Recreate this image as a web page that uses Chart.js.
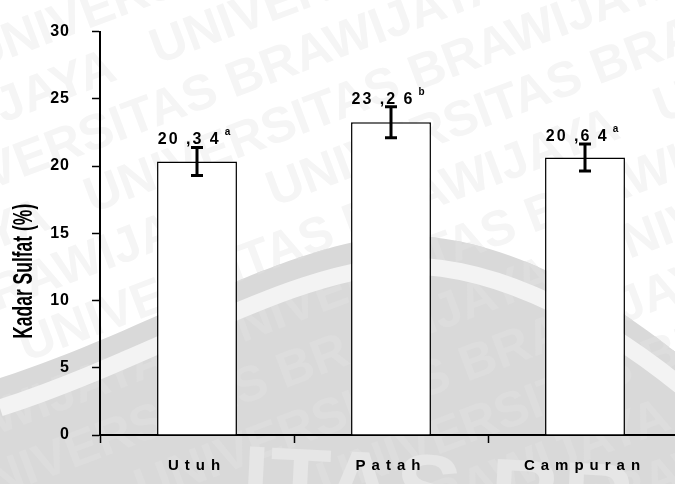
<!DOCTYPE html>
<html>
<head>
<meta charset="utf-8">
<script src="https://cdn.jsdelivr.net/npm/chart.js@4.4.1/dist/chart.umd.min.js"></script>
<style>
  html, body { margin: 0; padding: 0; background: #fff; overflow: hidden; width: 675px; height: 484px; }
  #wrap { position: absolute; left: 0; top: 0; width: 700px; height: 484px; }
</style>
</head>
<body>
<div id="wrap"><canvas id="c" width="700" height="484"></canvas></div>
<script>
// Sulfate content by grain condition
const categories = ['Utuh', 'Patah', 'Campuran'];
const sulfateMeans = [20.34, 23.26, 20.64];
const sulfateErrors = [1.05, 1.15, 1.0];
const significance = ['a', 'b', 'a'];
const yTicks = [0, 5, 10, 15, 20, 25, 30];
const yTitle = 'Kadar Sulfat (%)';
const watermarkText = 'UNIVERSITAS BRAWIJAYA';
const watermarkBig = 'ITAS BR';

const FONT = '"Liberation Sans", Arial, sans-serif';

// Category axis whose labels are drawn letter-spaced
class SpacedCategoryScale extends Chart.CategoryScale {
  static id = 'spacedCategory';
  static defaults = Chart.CategoryScale.defaults;
  drawLabels(area) {
    const ctx = this.ctx;
    ctx.save();
    ctx.letterSpacing = '6px';
    super.drawLabels(area);
    ctx.restore();
  }
}
// Linear axis with slightly spaced tick numbers
class SpacedLinearScale extends Chart.LinearScale {
  static id = 'spacedLinear';
  static defaults = Chart.LinearScale.defaults;
  drawLabels(area) {
    const ctx = this.ctx;
    ctx.save();
    ctx.letterSpacing = '1px';
    super.drawLabels(area);
    ctx.restore();
  }
}
Chart.register(SpacedCategoryScale, SpacedLinearScale);

// Upper edge of the background seal
function sealEdge(ctx, dy) {
  ctx.moveTo(0, 378 + dy);
  ctx.bezierCurveTo(150, 330 + dy, 290, 240 + dy, 400, 236 + dy);
  ctx.bezierCurveTo(500, 233 + dy, 610, 295 + dy, 700, 372 + dy);
}

function textRows(ctx, color) {
  ctx.save();
  ctx.font = 'bold 50px ' + FONT;
  ctx.fillStyle = color;
  ctx.textBaseline = 'alphabetic';
  ctx.rotate(-0.36);
  const row = (watermarkText + '   ').repeat(4);
  for (let i = -3; i < 16; i++) {
    ctx.fillText(row, -900 + ((i * 173) % 460 + 460) % 460, i * 58);
  }
  ctx.restore();
}

const backdrop = {
  id: 'backdrop',
  beforeDraw(chart) {
    const ctx = chart.ctx;
    const w = chart.width, h = chart.height;
    ctx.save();
    ctx.fillStyle = '#ffffff';
    ctx.fillRect(0, 0, w, h);
    textRows(ctx, '#f5f5f5');

    // seal area
    ctx.beginPath();
    sealEdge(ctx, 0);
    ctx.lineTo(w, h);
    ctx.lineTo(0, h);
    ctx.closePath();
    ctx.fillStyle = '#d9d9d9';
    ctx.fill();

    ctx.save();
    ctx.clip();
    textRows(ctx, '#dddddd');
    // light ring inside the seal
    ctx.beginPath();
    sealEdge(ctx, 30);
    ctx.strokeStyle = '#f3f3f3';
    ctx.lineWidth = 17;
    ctx.stroke();
    // large letters along the bottom
    ctx.save();
    ctx.translate(240, 515);
    ctx.rotate(0.05);
    ctx.font = 'bold 100px ' + FONT;
    ctx.fillStyle = '#e6e6e6';
    ctx.fillText(watermarkBig, 0, 0);
    ctx.restore();
    ctx.restore();
    ctx.restore();
  }
};

const annotations = {
  id: 'annotations',
  afterDatasetsDraw(chart) {
    const ctx = chart.ctx;
    const meta = chart.getDatasetMeta(0);
    const y = chart.scales.y;
    ctx.save();
    meta.data.forEach((bar, i) => {
      const v = sulfateMeans[i], e = sulfateErrors[i];
      const x = bar.x;
      const yTop = y.getPixelForValue(v + e);
      const yBot = y.getPixelForValue(v - e);
      // error bar
      ctx.strokeStyle = '#000';
      ctx.lineWidth = 3;
      ctx.lineCap = 'butt';
      ctx.beginPath();
      ctx.moveTo(x, yTop); ctx.lineTo(x, yBot);
      ctx.moveTo(x - 6, yTop); ctx.lineTo(x + 6, yTop);
      ctx.moveTo(x - 6, yBot); ctx.lineTo(x + 6, yBot);
      ctx.stroke();

      // value label with significance letter
      const parts = v.toFixed(2).split('.');
      const main = parts[0] + ' ,' + parts[1][0] + ' ' + parts[1][1];
      ctx.fillStyle = '#000';
      ctx.textAlign = 'left';
      ctx.textBaseline = 'alphabetic';
      ctx.letterSpacing = '2px';
      ctx.font = 'bold 16px ' + FONT;
      const mw = ctx.measureText(main).width;
      ctx.letterSpacing = '0px';
      ctx.font = 'bold 10px ' + FONT;
      const sw = ctx.measureText(significance[i]).width;
      const total = mw + 4 + sw;
      const x0 = x - total / 2 - 3;
      const base = yTop - 3;
      ctx.letterSpacing = '2px';
      ctx.font = 'bold 16px ' + FONT;
      ctx.fillText(main, x0, base);
      ctx.letterSpacing = '0px';
      ctx.font = 'bold 10px ' + FONT;
      ctx.fillText(significance[i], x0 + mw + 4, base - 9);
    });
    ctx.restore();
  },
  afterDraw(chart) {
    // squeezed vertical axis title
    const ctx = chart.ctx;
    const area = chart.chartArea;
    ctx.save();
    ctx.font = 'bold 27px ' + FONT;
    const w = ctx.measureText(yTitle).width;
    const s = 135 / w;
    ctx.translate(32, (area.top + area.bottom) / 2 + 38);
    ctx.rotate(-Math.PI / 2);
    ctx.scale(s, 1);
    ctx.fillStyle = '#000';
    ctx.textAlign = 'center';
    ctx.textBaseline = 'alphabetic';
    ctx.fillText(yTitle, 0, 0);
    ctx.restore();
  }
};

new Chart(document.getElementById('c'), {
  type: 'bar',
  data: {
    labels: categories,
    datasets: [{
      data: sulfateMeans,
      backgroundColor: '#ffffff',
      borderColor: '#000000',
      borderWidth: 1.5,
      categoryPercentage: 1,
      barPercentage: 0.412
    }]
  },
  options: {
    responsive: false,
    animation: false,
    events: [],
    layout: { padding: { top: 20, right: 18, left: 0, bottom: 0 } },
    plugins: { legend: { display: false }, tooltip: { enabled: false } },
    scales: {
      x: {
        type: 'spacedCategory',
        offset: true,
        grid: { display: true, drawOnChartArea: false, offset: true, tickLength: 8, tickColor: '#000', tickWidth: 1.5 },
        border: { display: true, color: '#000', width: 2 },
        ticks: { color: '#000', font: { family: FONT, size: 15, weight: 'bold' }, padding: 14, maxRotation: 0 },
        afterFit(scale) { scale.height = 49; }
      },
      y: {
        type: 'spacedLinear',
        min: 0,
        max: 30,
        afterBuildTicks(scale) { scale.ticks = yTicks.map(v => ({ value: v })); },
        grid: { display: true, drawOnChartArea: false, tickLength: 8, tickColor: '#000', tickWidth: 1.5 },
        border: { display: true, color: '#000', width: 2 },
        ticks: { color: '#000', font: { family: FONT, size: 16, weight: 'bold' }, padding: 22 },
        afterFit(scale) { scale.width = 100; }
      }
    }
  },
  plugins: [backdrop, annotations]
});
</script>
</body>
</html>
